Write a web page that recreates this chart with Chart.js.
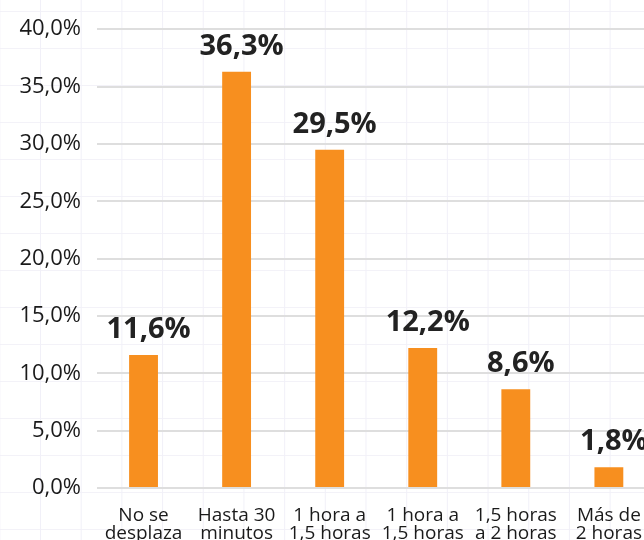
<!DOCTYPE html>
<html>
<head>
<meta charset="utf-8">
<script src="https://cdn.jsdelivr.net/npm/chart.js@4"></script>
<style>
  html, body {
    margin: 0;
    padding: 0;
    overflow: hidden;
    width: 644px;
    height: 540px;
    background-color: #fff;
    background-image:
      linear-gradient(to right, #f1f0f8 1px, transparent 1px),
      linear-gradient(to bottom, #f3f2f8 1px, transparent 1px);
    background-size: 40.7px 37px;
    background-position: 40px 11px;
  }
  #wrap { position: absolute; left: 0; top: 0; width: 660px; height: 540px; }
</style>
</head>
<body>
<div id="wrap"><canvas id="chart" width="660" height="540"></canvas></div>
<script>
// Categories and values
const categories = [
  ['No se', 'desplaza'],
  ['Hasta 30', 'minutos'],
  ['1 hora a', '1,5 horas'],
  ['1 hora a', '1,5 horas'],
  ['1,5 horas', 'a 2 horas'],
  ['Más de', '2 horas']
];
const values = [11.6, 36.3, 29.5, 12.2, 8.6, 1.8];
const yMax = 40;
const yStep = 5;

const fontFamily = "'Open Sans', 'Noto Sans', sans-serif";

function pct(v) {
  return v.toFixed(1).replace('.', ',') + '%';
}

// Draw value labels above bars
const valueLabels = {
  id: 'valueLabels',
  afterDatasetsDraw(chart) {
    const ctx = chart.ctx;
    const meta = chart.getDatasetMeta(0);
    ctx.save();
    ctx.font = 'bold 29px ' + fontFamily;
    ctx.fillStyle = '#222';
    ctx.textAlign = 'center';
    ctx.textBaseline = 'alphabetic';
    meta.data.forEach((bar, i) => {
      ctx.fillText(pct(values[i]), bar.x + 5, bar.y - 17);
    });
    ctx.restore();
  }
};

const ctx = document.getElementById('chart').getContext('2d');
new Chart(ctx, {
  type: 'bar',
  data: {
    labels: categories,
    datasets: [{
      data: values,
      backgroundColor: '#F78F1F',
      barPercentage: 0.31,
      categoryPercentage: 1.0
    }]
  },
  options: {
    responsive: false,
    animation: false,
    layout: { padding: { top: 26, right: 0, left: 0, bottom: 0 } },
    plugins: {
      legend: { display: false },
      tooltip: { enabled: false }
    },
    scales: {
      x: {
        grid: { display: false, drawTicks: false },
        border: { display: false },
        ticks: {
          color: '#1a1a1a',
          padding: 18,
          font: { family: fontFamily, size: 19, lineHeight: 0.98 },
          maxRotation: 0,
          autoSkip: false
        },
        afterFit(scale) { scale.height = 52; }
      },
      y: {
        min: 0,
        max: yMax,
        grid: { color: '#dedede', lineWidth: 2, drawTicks: false },
        border: { display: false },
        ticks: {
          stepSize: yStep,
          color: '#1a1a1a',
          padding: 16,
          font: { family: fontFamily, size: 22 },
          callback: v => pct(v)
        },
        afterFit(scale) { scale.width = 97; }
      }
    }
  },
  plugins: [valueLabels]
});
</script>
</body>
</html>
